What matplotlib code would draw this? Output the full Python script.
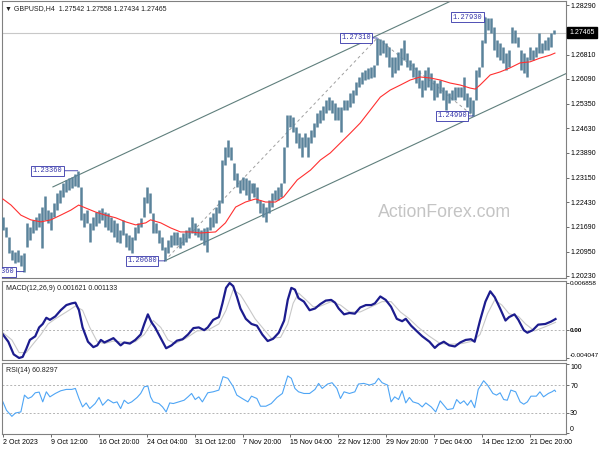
import matplotlib
matplotlib.use("Agg")
import matplotlib.pyplot as plt

plt.rcParams['font.family'] = ['Liberation Sans', 'DejaVu Sans']

# === price bars (4-hour chart, one value per drawn bar) ===
highs = [
    1.2199, 1.2169, 1.2139, 1.2100, 1.2094, 1.2100, 1.2086, 1.2091, 1.2181, 1.2169,
    1.2190, 1.2199, 1.2210, 1.2228, 1.2261, 1.2219, 1.2213, 1.2240, 1.2270, 1.2279,
    1.2300, 1.2309, 1.2314, 1.2317, 1.2326, 1.2336, 1.2288, 1.2210, 1.2219, 1.2181,
    1.2199, 1.2213, 1.2219, 1.2225, 1.2213, 1.2210, 1.2199, 1.2190, 1.2181, 1.2160,
    1.2190, 1.2151, 1.2145, 1.2139, 1.2169, 1.2181, 1.2196, 1.2258, 1.2288, 1.2270,
    1.2210, 1.2181, 1.2160, 1.2139, 1.2109, 1.2130, 1.2145, 1.2154, 1.2154, 1.2139,
    1.2151, 1.2160, 1.2169, 1.2199, 1.2181, 1.2166, 1.2160, 1.2166, 1.2169, 1.2199,
    1.2210, 1.2228, 1.2249, 1.2368, 1.2407, 1.2427, 1.2407, 1.2359, 1.2329, 1.2309,
    1.2317, 1.2314, 1.2309, 1.2300, 1.2300, 1.2288, 1.2249, 1.2240, 1.2228, 1.2249,
    1.2270, 1.2279, 1.2288, 1.2300, 1.2407, 1.2502, 1.2502, 1.2496, 1.2466, 1.2448,
    1.2436, 1.2448, 1.2436, 1.2457, 1.2478, 1.2508, 1.2517, 1.2529, 1.2547, 1.2555,
    1.2547, 1.2538, 1.2526, 1.2526, 1.2547, 1.2547, 1.2567, 1.2576, 1.2600, 1.2615,
    1.2630, 1.2636, 1.2642, 1.2645, 1.2651, 1.2731, 1.2728, 1.2725, 1.2716, 1.2704,
    1.2674, 1.2674, 1.2689, 1.2701, 1.2725, 1.2686, 1.2665, 1.2656, 1.2645, 1.2636,
    1.2606, 1.2636, 1.2645, 1.2627, 1.2606, 1.2597, 1.2606, 1.2585, 1.2576, 1.2567,
    1.2576, 1.2585, 1.2585, 1.2585, 1.2615, 1.2567, 1.2555, 1.2547, 1.2636, 1.2645,
    1.2725, 1.2793, 1.2791, 1.2790, 1.2764, 1.2725, 1.2716, 1.2704, 1.2686, 1.2695,
    1.2764, 1.2755, 1.2734, 1.2695, 1.2686, 1.2674, 1.2704, 1.2695, 1.2704, 1.2746,
    1.2716, 1.2725, 1.2734, 1.2746, 1.2756]
lows = [
    1.2160, 1.2139, 1.2091, 1.2071, 1.2062, 1.2065, 1.2053, 1.2036, 1.2109, 1.2130,
    1.2151, 1.2160, 1.2169, 1.2106, 1.2190, 1.2181, 1.2160, 1.2199, 1.2219, 1.2240,
    1.2258, 1.2273, 1.2279, 1.2285, 1.2291, 1.2288, 1.2190, 1.2169, 1.2181, 1.2124,
    1.2160, 1.2172, 1.2181, 1.2190, 1.2169, 1.2160, 1.2154, 1.2139, 1.2124, 1.2121,
    1.2145, 1.2109, 1.2100, 1.2091, 1.2130, 1.2151, 1.2169, 1.2199, 1.2240, 1.2210,
    1.2151, 1.2151, 1.2121, 1.2100, 1.2068, 1.2091, 1.2109, 1.2115, 1.2115, 1.2106,
    1.2115, 1.2124, 1.2136, 1.2151, 1.2145, 1.2139, 1.2130, 1.2115, 1.2094, 1.2160,
    1.2169, 1.2181, 1.2210, 1.2240, 1.2353, 1.2377, 1.2368, 1.2309, 1.2288, 1.2270,
    1.2279, 1.2264, 1.2249, 1.2270, 1.2258, 1.2240, 1.2210, 1.2199, 1.2184, 1.2210,
    1.2228, 1.2249, 1.2249, 1.2258, 1.2300, 1.2407, 1.2466, 1.2451, 1.2419, 1.2404,
    1.2377, 1.2407, 1.2377, 1.2419, 1.2436, 1.2466, 1.2478, 1.2487, 1.2508, 1.2517,
    1.2508, 1.2487, 1.2487, 1.2451, 1.2517, 1.2517, 1.2526, 1.2538, 1.2561, 1.2585,
    1.2594, 1.2606, 1.2609, 1.2612, 1.2615, 1.2651, 1.2680, 1.2686, 1.2674, 1.2645,
    1.2615, 1.2627, 1.2636, 1.2651, 1.2665, 1.2645, 1.2636, 1.2615, 1.2597, 1.2582,
    1.2555, 1.2576, 1.2585, 1.2576, 1.2547, 1.2555, 1.2567, 1.2547, 1.2517, 1.2538,
    1.2547, 1.2547, 1.2555, 1.2555, 1.2547, 1.2526, 1.2508, 1.2499, 1.2547, 1.2615,
    1.2645, 1.2716, 1.2755, 1.2746, 1.2695, 1.2674, 1.2665, 1.2656, 1.2636, 1.2645,
    1.2716, 1.2716, 1.2704, 1.2636, 1.2627, 1.2615, 1.2665, 1.2665, 1.2674, 1.2686,
    1.2686, 1.2695, 1.2695, 1.2704, 1.2743]
bar_idx = list(range(len(highs)))
last_price = 1.27465
title_text = "\u25bc GBPUSD,H4  1.27542 1.27558 1.27434 1.27465"

# === moving average (red) ===
ma_k = [0, 2.7, 6, 9.3, 12.7, 16, 19.3, 22.7, 25.3, 27.7, 31, 34.3, 37.7, 41, 44.3,
        47.7, 49.3, 52.7, 56, 59.3, 62.7, 66, 71, 74.3, 77.7, 81, 84.3, 87.7, 91, 93.7,
        98.3, 102.7, 106, 109.3, 112.7, 116, 119.3, 122.7, 126, 129.3, 132.7, 136, 139.3,
        142.7, 146, 149.3, 152.7, 156, 157.7, 159.3, 161, 162.7, 166, 169.3, 172.7, 176,
        179.3, 182.7, 184.3]
ma_p = [1.2252, 1.2234, 1.2204, 1.2190, 1.2184, 1.2190, 1.2204, 1.2219, 1.2234, 1.2225,
        1.2213, 1.2204, 1.2196, 1.2184, 1.2175, 1.2181, 1.2190, 1.2181, 1.2166, 1.2154,
        1.2154, 1.2151, 1.2154, 1.2181, 1.2228, 1.2243, 1.2252, 1.2243, 1.2243, 1.2258,
        1.2309, 1.2338, 1.2368, 1.2389, 1.2419, 1.2448, 1.2478, 1.2517, 1.2555, 1.2576,
        1.2591, 1.2606, 1.2615, 1.2612, 1.2606, 1.2597, 1.2591, 1.2582, 1.2579, 1.2591,
        1.2606, 1.2621, 1.2630, 1.2642, 1.2657, 1.2660, 1.2671, 1.2680, 1.2686]

# === channel + swing lines ===
upper_k = [16.7, 152]
upper_p = [1.2288, 1.2851]
lower_k = [54, 188]
lower_p = [1.2068, 1.2625]
zig_k = [54, 125, 157]
zig_p = [1.2068, 1.2731, 1.2499]

# swing labels: bar index, price, text
swing_k = [25, 54, 125, 157, 161, 7]
swing_p = [1.2336, 1.2068, 1.2731, 1.2499, 1.2793, 1.2036]
swing_txt = ["1.23360", "1.20680", "1.27310", "1.24990", "1.27930", "1.20360"]
swing_dx = [-11, -5.5, -4.5, -4.5, -2, -7]

price_ticks = [1.28290, 1.27550, 1.26810, 1.26090, 1.25350, 1.24630,
               1.23890, 1.23150, 1.22430, 1.21690, 1.20950, 1.20230]

# === MACD(12,26,9) ===
macd_k = [0, 1.8, 3.6, 5.4, 6.6, 7.8, 9.0, 10.8, 12.1, 13.3, 14.5, 15.7, 17.5, 19.3,
          21.2, 23.0, 24.2, 25.4, 26.6, 28.4, 30.2, 31.5, 32.7, 33.9, 35.7, 36.9, 38.1,
          39.3, 40.5, 42.4, 44.2, 46.0, 47.2, 48.4, 49.6, 50.8, 52.7, 54.5, 56.3, 58.1,
          60.0, 61.8, 63.6, 65.4, 67.2, 68.4, 70.2, 72.1, 73.3, 74.5, 75.7, 76.9, 78.1,
          79.3, 81.1, 83.0, 84.8, 86.6, 88.4, 90.2, 92.1, 93.9, 95.1, 96.3, 97.5, 98.7,
          100.5, 102.4, 104.2, 106.0, 107.8, 109.6, 110.9, 112.1, 113.9, 115.7, 117.5,
          119.3, 121.2, 123.0, 124.2, 126.0, 127.8, 129.6, 131.5, 133.3, 134.5, 136.3,
          138.1, 140.0, 142.4, 144.2, 145.4, 147.2, 149.0, 150.9, 152.7, 154.5, 156.3,
          157.5, 159.3, 161.1, 162.7, 164.2, 166.0, 167.8, 169.0, 170.8, 172.1, 173.9,
          175.1, 176.9, 178.7, 181.1, 183.0, 184.5]
macd_v = [-0.00063, -0.00168, -0.00352, -0.004047, -0.00389, -0.00274, -0.00142, -0.00089,
          0.00040, 0.00090, 0.00180, 0.00150, 0.00200, 0.00290, 0.00365, 0.00390, 0.00400,
          0.00290, 0.00040, -0.00168, -0.00247, -0.00221, -0.00142, -0.00179, -0.00142,
          -0.00116, -0.00168, -0.00221, -0.00179, -0.00195, -0.00142, -0.00063, 0.00090,
          0.00230, 0.00115, 0.00040, -0.00116, -0.00263, -0.00221, -0.00153, -0.00132,
          -0.00063, 0.00030, 0.00040, 0.0, 0.00040, 0.00150, 0.00190, 0.00390, 0.00615,
          0.006858, 0.00640, 0.00490, 0.00315, 0.00165, 0.00090, 0.00065, -0.00063,
          -0.00158, -0.00126, -0.00037, 0.00140, 0.00440, 0.00615, 0.00590, 0.00465,
          0.00415, 0.00290, 0.00315, 0.00380, 0.00430, 0.00440, 0.00400, 0.00315, 0.00230,
          0.00250, 0.00240, 0.00330, 0.00365, 0.00365, 0.00390, 0.00490, 0.00440, 0.00340,
          0.00165, 0.00130, 0.00165, 0.00065, -0.00011, -0.00089, -0.00168, -0.00258,
          -0.00210, -0.00168, -0.00221, -0.00237, -0.00179, -0.00142, -0.00132, -0.00168,
          0.00140, 0.00415, 0.00565, 0.00480, 0.00315, 0.00140, 0.00190, 0.00230, 0.00150,
          0.0, -0.00037, 0.0, 0.00080, 0.00090, 0.00125, 0.001621]
sig_k = [0, 3.0, 5.4, 7.8, 10.2, 12.7, 15.1, 17.5, 21.2, 24.2, 26.6, 29.0, 31.5, 33.9,
         36.9, 40.5, 44.2, 47.2, 50.2, 52.7, 55.1, 57.5, 61.2, 64.8, 68.4, 72.1, 74.5,
         76.9, 79.3, 81.8, 84.2, 86.6, 89.6, 92.7, 95.1, 96.9, 98.7, 101.2, 103.6, 106.0,
         109.6, 112.7, 115.7, 119.3, 123.0, 126.6, 129.6, 132.7, 135.7, 138.7, 142.4,
         146.0, 149.6, 153.3, 156.9, 159.3, 161.8, 164.2, 166.6, 169.0, 172.1, 174.5,
         177.5, 181.1, 184.5]
sig_v = [-0.00037, -0.00142, -0.00326, -0.00326, -0.00195, -0.00063, 0.00090, 0.00165,
         0.00265, 0.00350, 0.00290, 0.00040, -0.00168, -0.00195, -0.00158, -0.00179,
         -0.00168, -0.00063, 0.00140, 0.00040, -0.00142, -0.00195, -0.00116, -0.00011,
         0.0, 0.00090, 0.00290, 0.00590, 0.00515, 0.00340, 0.00165, 0.00040, -0.00116,
         -0.00105, 0.00090, 0.00390, 0.00540, 0.00440, 0.00340, 0.00350, 0.00415, 0.00365,
         0.00265, 0.00265, 0.00340, 0.00415, 0.00415, 0.00265, 0.00165, 0.00040, -0.00089,
         -0.00195, -0.00205, -0.00195, -0.00158, -0.00063, 0.00240, 0.00440, 0.00365,
         0.00240, 0.00200, 0.00090, -0.00011, 0.00050, 0.001133]
macd_ticks = [0.006858, 0.0, -0.004047]
macd_tick_labels = ["0.006858", "0.00", "-0.004047"]

# === RSI(14) ===
rsi_k = [0, 1.2, 3.0, 4.2, 6.0, 7.2, 8.4, 9.6, 10.8, 12.1,
         13.3, 14.5, 15.7, 17.5, 19.3, 21.2, 23.0, 24.2, 25.4, 26.6,
         27.8, 29.0, 30.8, 32.1, 33.3, 35.1, 36.9, 38.1, 39.3, 40.5,
         41.8, 43.0, 44.8, 46.0, 47.2, 48.4, 49.3, 50.2, 52.1, 53.3,
         54.5, 55.7, 56.9, 58.7, 60.5, 61.8, 63.0, 64.2, 65.4, 66.6,
         68.4, 70.2, 72.1, 73.5, 75.1, 76.9, 78.1, 79.9, 81.8, 83.0,
         84.8, 86.0, 87.8, 89.6, 91.5, 93.3, 95.1, 96.3, 97.5, 98.7,
         100.5, 102.4, 104.2, 105.4, 106.6, 108.4, 109.9, 111.5, 112.7, 113.9,
         115.7, 117.5, 118.7, 120.5, 122.4, 124.2, 125.4, 126.6, 128.4, 129.6,
         130.8, 132.1, 133.3, 134.5, 135.7, 136.9, 138.7, 140.0, 141.2, 143.0,
         144.5, 146.0, 147.2, 148.4, 150.3, 151.5, 152.7, 153.9, 155.1, 156.3,
         157.5, 158.7, 160.5, 161.8, 163.6, 164.8, 166.0, 167.2, 168.4, 169.6,
         171.2, 172.7, 173.9, 175.1, 176.3, 178.1, 179.3, 180.5, 182.1, 183.3,
         184.2, 184.5]
rsi_v = [45.6, 33.4, 24.6, 29.5, 31.0, 55.4, 50.5, 52.9, 58.8, 59.8,
         45.6, 60.2, 52.9, 57.8, 61.7, 63.7, 63.7, 65.1, 50.5, 38.3,
         44.1, 35.9, 43.2, 52.0, 40.7, 49.0, 44.1, 45.6, 35.9, 48.0,
         43.2, 45.6, 52.0, 57.8, 67.6, 68.5, 52.9, 45.6, 43.2, 38.3,
         31.0, 44.1, 43.2, 45.6, 48.0, 52.9, 57.8, 49.0, 52.9, 45.6,
         58.8, 60.2, 62.7, 82.2, 79.8, 67.6, 55.4, 50.5, 45.6, 53.9,
         50.5, 39.3, 39.3, 43.2, 52.0, 57.8, 83.2, 79.8, 65.1, 60.2,
         57.8, 57.8, 63.7, 72.4, 65.1, 71.5, 73.4, 65.1, 50.5, 60.2,
         57.8, 60.2, 71.5, 72.4, 70.0, 72.4, 79.8, 73.4, 70.0, 45.6,
         52.9, 49.0, 61.7, 44.1, 52.0, 45.6, 43.2, 38.3, 44.1, 38.3,
         31.0, 47.1, 40.7, 34.4, 35.9, 49.0, 43.2, 47.1, 40.7, 48.0,
         37.3, 63.7, 76.3, 70.0, 57.8, 55.4, 58.8, 49.0, 48.0, 62.7,
         60.2, 45.6, 42.2, 45.6, 53.9, 53.9, 60.2, 52.9, 57.8, 60.2,
         62.7, 60.8]
rsi_ticks = [100, 70, 30, 0]

# === time axis ===
time_ticks = [0, 16, 32, 48, 64, 80, 96, 112, 128, 144, 160, 176]
time_labels = ["2 Oct 2023", "9 Oct 12:00", "16 Oct 20:00", "24 Oct 04:00",
               "31 Oct 12:00", "7 Nov 20:00", "15 Nov 04:00", "22 Nov 12:00",
               "29 Nov 20:00", "7 Dec 04:00", "14 Dec 12:00", "21 Dec 20:00"]

# === colours ===
BAR = '#5a839b'
LBL = '#3232a8'
SPINE = '#808080'
FS = 5.0

# === layout (pixel boxes on a 600x450 canvas) ===
fig = plt.figure(figsize=(6, 4.5), dpi=100)
W, H = 600.0, 450.0


def rect(l, t, r, b):
    return [l / W, 1 - b / H, (r - l) / W, (b - t) / H]


ax = fig.add_axes(rect(2, 1, 566, 278))
ax_m = fig.add_axes(rect(2, 281, 566, 360), sharex=ax)
ax_r = fig.add_axes(rect(2, 363, 566, 434), sharex=ax)

for a in (ax, ax_m, ax_r):
    a.yaxis.tick_right()
    a.tick_params(axis='y', length=2.2, width=0.6, pad=0.8, labelsize=FS, color='#555555')
    a.tick_params(axis='x', bottom=False, labelbottom=False)
    for s in a.spines.values():
        s.set_color(SPINE)
        s.set_linewidth(0.8)

# === main panel ===
ax.axhline(last_price, color='#c8c8c8', lw=0.8, zorder=1)
ax.vlines(bar_idx, lows, highs, color=BAR, lw=1.8, zorder=3)
ax.plot(ma_k, ma_p, color='#ff3030', lw=0.8, zorder=4)
ax.plot(upper_k, upper_p, color='#5f7f7c', lw=0.8, zorder=2)
ax.plot(lower_k, lower_p, color='#5f7f7c', lw=0.8, zorder=2)
ax.plot(zig_k, zig_p, color='#a0a0a0', lw=0.7, ls=(0, (3, 3)), zorder=2)

for k, p, t, dx in zip(swing_k, swing_p, swing_txt, swing_dx):
    ax.annotate(t, xy=(k, p), xytext=(dx, 0), textcoords='offset points',
                ha='right', va='center', family='Liberation Mono', fontsize=FS,
                color=LBL, clip_on=True, zorder=6,
                bbox=dict(boxstyle='square,pad=0.2', fc='white', ec=LBL, lw=0.6),
                arrowprops=dict(arrowstyle='-', color=LBL, lw=0.6, shrinkA=0, shrinkB=0))

ax.set_xlim(-0.3, 188)
ax.set_ylim(1.2017, 1.2841)
ax.set_yticks(price_ticks)
ax.set_yticklabels(["%.5f" % v for v in price_ticks])

ax.annotate("%.5f" % last_price, xy=(1, last_price), xycoords=('axes fraction', 'data'),
            xytext=(2.5, 0), textcoords='offset points', ha='left', va='center',
            fontsize=FS, color='white', annotation_clip=False, zorder=10,
            bbox=dict(boxstyle='square,pad=0.3', fc='black', ec='black'))
ax.annotate(title_text, xy=(0, 1), xycoords='axes fraction', xytext=(2, -3),
            textcoords='offset points', ha='left', va='top', fontsize=FS, color='#202020')
ax.text(0.784, 0.238, "ActionForex.com", transform=ax.transAxes, ha='center',
        va='center', fontsize=12.8, color='#c4c4c4', zorder=0)

# === MACD panel ===
ax_m.axhline(0, color='#b4b4b4', lw=0.7, ls=(0, (2, 2)))
ax_m.plot(sig_k, sig_v, color='#c8c8c8', lw=0.8)
ax_m.plot(macd_k, macd_v, color='#1c1c8e', lw=1.6)
ax_m.set_ylim(-0.00434, 0.00715)
ax_m.set_yticks(macd_ticks)
ax_m.set_yticklabels(macd_tick_labels)
for lab in ax_m.get_yticklabels():
    lab.set_fontsize(4.6)
ax_m.get_yticklabels()[1].set_fontweight('bold')
ax_m.get_yticklabels()[-1].set_va('bottom')
ax_m.annotate("MACD(12,26,9) 0.001621 0.001133", xy=(0, 1), xycoords='axes fraction',
              xytext=(3, -3), textcoords='offset points', ha='left', va='top',
              fontsize=FS, color='#202020')

# === RSI panel ===
for lvl in (70, 30):
    ax_r.axhline(lvl, color='#b4b4b4', lw=0.7, ls=(0, (2, 2)))
ax_r.plot(rsi_k, rsi_v, color='#4ea5f5', lw=0.8)
ax_r.set_ylim(-1, 102)
ax_r.set_yticks(rsi_ticks)
ax_r.set_yticklabels([str(v) for v in rsi_ticks])
ax_r.get_yticklabels()[0].set_va('top')
ax_r.get_yticklabels()[-1].set_va('bottom')
ax_r.annotate("RSI(14) 60.8297", xy=(0, 1), xycoords='axes fraction',
              xytext=(3, -3), textcoords='offset points', ha='left', va='top',
              fontsize=FS, color='#202020')

ax_r.tick_params(axis='x', bottom=True, labelbottom=True, length=2.5, width=0.6,
                 pad=1.0, labelsize=FS, color='#555555')
ax_r.set_xticks(time_ticks)
ax_r.set_xticklabels(time_labels, ha='left')

fig.savefig("out.png", dpi=100)
